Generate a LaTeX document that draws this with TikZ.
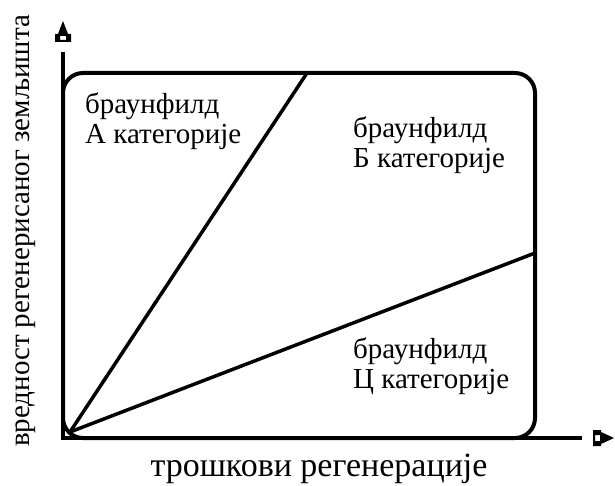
\documentclass[tikz,border=0pt]{standalone}
\usepackage{fontspec}
\setmainfont{Liberation Serif}
\tikzset{
    frame/.style={line width=4pt, rounded corners=20pt},
    axis/.style={line width=3.5pt},
    split/.style={line width=3.5pt},
    label/.style={font=\fontsize{29}{30}\selectfont, inner sep=0pt, align=left}
}
\begin{document}
\begin{tikzpicture}[x=1pt, y=-1pt]
    \useasboundingbox (0,0) rectangle (615,486);
    % osa i okvir
    \coordinate (O) at (70,432);
    \coordinate (ytop) at (63,52);
    \coordinate (xend) at (582,438);
    \coordinate (corner) at (63,438);
    \draw[axis] (ytop) -- (corner) -- (xend);
    \draw[frame] (63,73) rectangle (535,438);
    % vrhovi strelica
    \fill[even odd rule] (55,42) -- (55,34) -- (58,34) -- (63,21) -- (68,34) -- (71,34) -- (71,42) -- cycle
        (60,36) rectangle (66,40);
    \fill[even odd rule] (593,430) -- (601,430) -- (601,432) -- (614,438) -- (601,444) -- (601,446) -- (593,446) -- cycle
        (595,435) rectangle (600,441);
    % granice kategorija
    \coordinate (atop) at (307,73);
    \coordinate (cright) at (535,253);
    \draw[split] (O) -- (atop);
    \draw[split] (O) -- (cright);
    % natpisi
    \node[label, anchor=north west] (catA) at (85,93) {браунфилд\\А категорије};
    \node[label, anchor=north west] (catB) at (353,117) {браунфилд\\Б категорије};
    \node[label, anchor=north west] (catC) at (353,338) {браунфилд\\Ц категорије};
    \node[label, font=\fontsize{34}{36}\selectfont, anchor=base] (xlab) at (319,476) {трошкови регенерације};
    \node[label, anchor=base, rotate=90] (ylab) at (29,231) {вредност регенерисаног земљишта};
\end{tikzpicture}
\end{document}
